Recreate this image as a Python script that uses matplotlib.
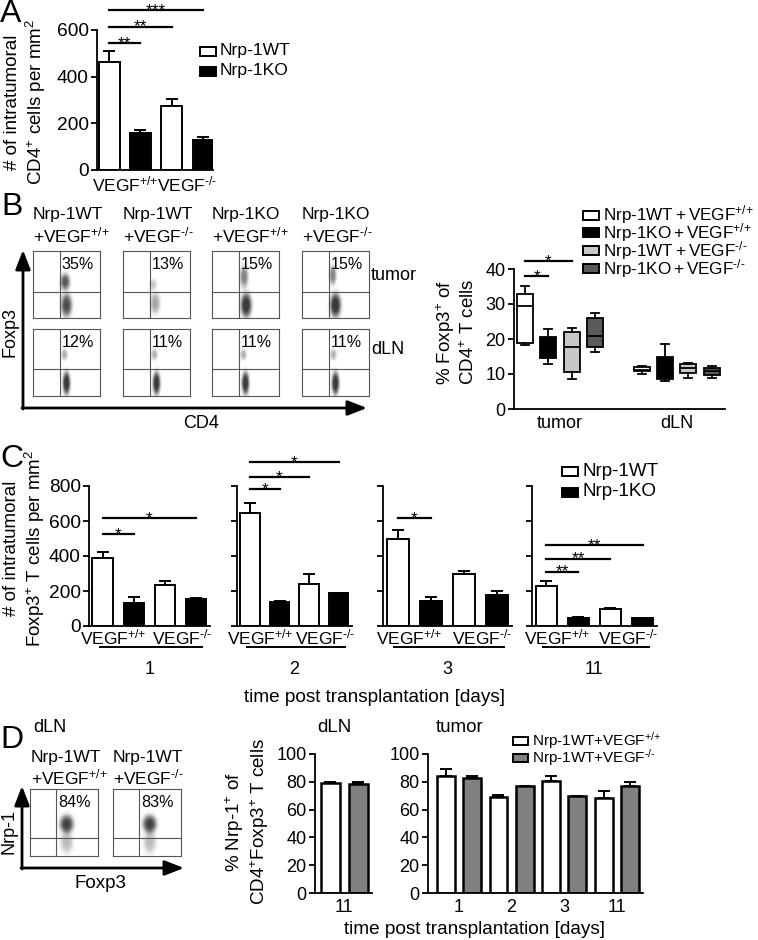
import numpy as np
import matplotlib.pyplot as plt
from matplotlib.patches import Rectangle

plt.rcParams['font.family'] = ['Liberation Sans', 'DejaVu Sans']
plt.rcParams['mathtext.fontset'] = 'custom'
plt.rcParams['mathtext.rm'] = 'Liberation Sans'
plt.rcParams['mathtext.default'] = 'rm'
plt.rcParams['font.size'] = 13
plt.rcParams['axes.linewidth'] = 1.3
plt.rcParams['xtick.major.width'] = 1.3
plt.rcParams['ytick.major.width'] = 1.3
plt.rcParams['ytick.major.size'] = 4

HY = '\u2010'  # short hyphen for the -/- superscript

# ---- data ----
genotypes = ['VEGF$^{{+}/{+}}$', 'VEGF$^{%s/%s}$' % (HY, HY)]
wt_ko_labels = ['Nrp-1WT', 'Nrp-1KO']

# A: intratumoral CD4+ cells per mm2 (WT, KO, WT, KO)
a_mean = [462, 160, 274, 129]
a_err = [48, 11, 32, 14]
a_sig = [(0, 1, 543, '**'), (0, 2, 614, '**'), (0, 3, 686, '***')]

# B: flow plots
b_titles = ['Nrp-1WT\n+' + genotypes[0], 'Nrp-1WT\n+' + genotypes[1],
            'Nrp-1KO\n+' + genotypes[0], 'Nrp-1KO\n+' + genotypes[1]]
b_tumor_pct = ['35%', '13%', '15%', '15%']
b_dln_pct = ['12%', '11%', '11%', '11%']

# B: box plot (whislo, q1, med, q3, whishi)
b_groups = ['tumor', 'dLN']
b_box_labels = ['Nrp-1WT$\\,$+$\\,$' + genotypes[0], 'Nrp-1KO$\\,$+$\\,$' + genotypes[0],
                'Nrp-1WT$\\,$+$\\,$' + genotypes[1], 'Nrp-1KO$\\,$+$\\,$' + genotypes[1]]
b_tumor_box = [(18.2, 18.9, 29.5, 32.9, 35.2), (12.9, 14.7, 17.0, 20.6, 22.9),
               (8.6, 10.7, 17.6, 21.9, 23.1), (16.4, 17.7, 21.0, 25.9, 27.4)]
b_dln_box = [(10.1, 10.8, 11.2, 12.0, 12.4), (8.1, 8.7, 10.0, 14.8, 18.7),
             (9.0, 10.3, 11.6, 13.0, 13.1), (8.8, 9.8, 10.8, 11.6, 12.2)]
b_sig = [(0, 1, 38, '*'), (0, 2, 42.3, '*')]

# C: intratumoral Foxp3+ T cells per mm2, per day (WT, KO, WT, KO)
c_days = ['1', '2', '3', '11']
c_mean = [[389, 132, 232, 153], [643, 136, 238, 189],
          [498, 143, 300, 177], [228, 47, 98, 43]]
c_err = [[34, 36, 28, 5], [61, 6, 62, 2], [51, 25, 13, 23], [32, 4, 6, 4]]
c_sig = [[(0, 1, 525, '*'), (0, 3, 615, '*')],
         [(0, 1, 783, '*'), (0, 2, 851, '*'), (0, 3, 937, '*')],
         [(0, 1, 615, '*')],
         [(0, 1, 311, '**'), (0, 2, 385, '**'), (0, 3, 462, '**')]]

# D
d_titles = ['Nrp-1WT\n+' + genotypes[0], 'Nrp-1WT\n+' + genotypes[1]]
d_pct = ['84%', '83%']
d_labels = ['Nrp-1WT+' + genotypes[0], 'Nrp-1WT+' + genotypes[1]]
d_dln_days = ['11']
d_dln_wt, d_dln_wt_err = [78.8], [1.0]
d_dln_ko, d_dln_ko_err = [78.6], [1.6]
d_days = ['1', '2', '3', '11']
d_tum_wt = [84.0, 69.3, 80.5, 68.6]
d_tum_wt_err = [5.0, 0.9, 3.5, 5.0]
d_tum_ko = [82.6, 76.7, 70.0, 76.7]
d_tum_ko_err = [1.9, 0.3, 0.0, 3.3]

LIGHT = '#c8c8c8'
DARK = '#5a5a5a'
MID = '#808080'

W, H = 758, 940
fig = plt.figure(figsize=(W / 100, H / 100), dpi=100)


def px_axes(l, t, r, b):
    return fig.add_axes([l / W, 1 - b / H, (r - l) / W, (b - t) / H])


def style(ax):
    for s in ['top', 'right']:
        ax.spines[s].set_visible(False)
    ax.tick_params(axis='x', length=0, pad=1)
    ax.tick_params(axis='y', direction='out', pad=2)


def sig(ax, x1, x2, y, label):
    ax.plot([x1, x2], [y, y], color='k', lw=1.6, clip_on=False)
    ax.annotate(label, xy=((x1 + x2) / 2, y), xytext=(0, -3.5),
                textcoords='offset points', ha='center', va='baseline',
                fontsize=12.5, annotation_clip=False)


def wtko_bars(ax, means, errs, lw=1.4):
    x = np.arange(len(means))
    fills = ['white', 'black'] * (len(means) // 2)
    ax.errorbar(x, means, yerr=[np.zeros(len(errs)), errs], fmt='none',
                ecolor='k', elinewidth=1.4, capsize=4.5, capthick=1.4, zorder=1)
    ax.bar(x, means, width=0.66, color=fills, edgecolor='k', lw=lw, zorder=2)
    return x


# ---- A ----
axA = px_axes(97, 30, 213, 170)
style(axA)
wtko_bars(axA, a_mean, a_err)
axA.set_xlim(-0.39, 3.32)
axA.set_ylim(0, 600)
axA.set_yticks([0, 200, 400, 600])
axA.tick_params(axis='y', labelsize=13.8)
axA.set_xticks([0.5, 2.5])
axA.set_xticklabels(genotypes, fontsize=12.5)
axA.tick_params(axis='x', pad=3)
for x1, x2, y, lab in a_sig:
    sig(axA, x1, x2, y, lab)

# ---- B flow plots ----
gx, gy = np.meshgrid(np.linspace(0, 1, 160), np.linspace(0, 1, 160))


def flow(ax, blobs, gate_x, gate_y, pct):
    d = np.zeros_like(gx)
    for cx, cy, sx, sy, k in blobs:
        r2 = ((gx - cx) / sx) ** 2 + ((gy - cy) / sy) ** 2
        d += k * np.exp(-r2 ** 1.6)
    img = np.zeros(gx.shape + (4,))
    img[..., :3] = 0.12
    img[..., 3] = np.clip(d, 0, 0.88)
    ax.imshow(img, extent=(0, 1, 0, 1), origin='lower', aspect='auto',
              interpolation='bilinear')
    ax.axvline(gate_x, color='#555555', lw=0.8)
    ax.axhline(gate_y, color='#555555', lw=0.8)
    ax.set_xlim(0, 1)
    ax.set_ylim(0, 1)
    ax.set_xticks([])
    ax.set_yticks([])
    for s in ax.spines.values():
        s.set_color('#555555')
        s.set_linewidth(0.8)
    ax.text(gate_x + 0.03, 0.8, pct, fontsize=11.6, va='center', ha='left')


tumor_blobs = [
    [(0.48, 0.54, 0.07, 0.12, 0.75), (0.5, 0.19, 0.08, 0.17, 0.8)],
    [(0.45, 0.5, 0.05, 0.08, 0.25), (0.48, 0.22, 0.07, 0.15, 0.4)],
    [(0.48, 0.62, 0.06, 0.16, 0.55), (0.51, 0.19, 0.08, 0.18, 0.95)],
    [(0.46, 0.64, 0.05, 0.14, 0.55), (0.5, 0.19, 0.08, 0.18, 0.95)],
]
dln_blobs = [(0.47, 0.62, 0.045, 0.08, 0.35), (0.5, 0.19, 0.055, 0.17, 0.95)]
b_cols_px = [33, 123, 212, 302]
for i, l in enumerate(b_cols_px):
    ax = px_axes(l, 251, l + 67, 318)
    flow(ax, tumor_blobs[i], 0.4, 0.39, b_tumor_pct[i])
    ax = px_axes(l, 329, l + 67, 396)
    flow(ax, dln_blobs, 0.4, 0.4, b_dln_pct[i])

# ---- B box plot ----
axB = px_axes(514, 269, 725, 409)
style(axB)
stats = []
for whislo, q1, med, q3, whishi in b_tumor_box + b_dln_box:
    stats.append(dict(whislo=whislo, q1=q1, med=med, q3=q3, whishi=whishi, fliers=[]))
bp = axB.bxp(stats, positions=[0, 1, 2, 3, 5, 6, 7, 8], widths=0.68,
             patch_artist=True, showfliers=False,
             boxprops=dict(lw=1.3, edgecolor='k'),
             medianprops=dict(color='k', lw=1.3),
             whiskerprops=dict(lw=1.3), capprops=dict(lw=1.3))
box_fills = ['white', 'black', LIGHT, DARK] * 2
for p, c in zip(bp['boxes'], box_fills):
    p.set_facecolor(c)
axB.set_xlim(-0.47, 8.57)
axB.set_ylim(0, 40)
axB.set_yticks([0, 10, 20, 30, 40])
axB.set_xticks([1.5, 6.5])
axB.set_xticklabels(b_groups)
axB.tick_params(axis='x', pad=4)
for x1, x2, y, lab in b_sig:
    sig(axB, x1, x2, y, lab)

# ---- C ----
c_px = [(89, 210), (237, 352), (383, 512), (532, 657)]
for i, (l, r) in enumerate(c_px):
    ax = px_axes(l, 486, r, 626)
    style(ax)
    wtko_bars(ax, c_mean[i], c_err[i])
    ax.set_xlim(-0.44, 3.45)
    ax.set_ylim(0, 800)
    ax.set_yticks([0, 200, 400, 600, 800])
    ax.tick_params(axis='y', labelsize=13.8)
    if i > 0:
        ax.set_yticklabels([])
    ax.set_xticks([0.35, 2.55])
    ax.set_xticklabels(genotypes, fontsize=12.5)
    for x1, x2, y, lab in c_sig[i]:
        sig(ax, x1, x2, y, lab)
    ax.plot([-0.1, 3.2], [-0.15, -0.15], color='k', lw=1.4,
            transform=ax.get_xaxis_transform(), clip_on=False)
    ax.text(1.5, -0.31, c_days[i], ha='center', va='center',
            transform=ax.get_xaxis_transform())

# ---- D flow ----
d_blobs = [(0.54, 0.47, 0.1, 0.13, 0.85), (0.54, 0.2, 0.09, 0.15, 0.3)]
for i, l in enumerate([30, 113]):
    ax = px_axes(l, 789, l + 68, 856)
    flow(ax, d_blobs, 0.38, 0.27, d_pct[i])

# ---- D bars ----


def wt_gray_bars(ax, wt, wt_err, ko, ko_err):
    n = len(wt)
    x = np.arange(2 * n)
    means = [v for pair in zip(wt, ko) for v in pair]
    errs = [v for pair in zip(wt_err, ko_err) for v in pair]
    ax.errorbar(x, means, yerr=[np.zeros(2 * n), errs], fmt='none', ecolor='k',
                elinewidth=1.4, capsize=4.5, capthick=1.4, zorder=1)
    ax.bar(x, means, width=0.68, color=['white', MID] * n, edgecolor='k',
           lw=1.8, zorder=2)


axD1 = px_axes(315, 754, 372, 893)
style(axD1)
wt_gray_bars(axD1, d_dln_wt, d_dln_wt_err, d_dln_ko, d_dln_ko_err)
axD1.set_xlim(-0.54, 1.5)
axD1.set_ylim(0, 100)
axD1.set_yticks([0, 20, 40, 60, 80, 100])
axD1.set_xticks([0.5])
axD1.set_xticklabels(d_dln_days)
axD1.tick_params(axis='x', pad=4)

axD2 = px_axes(428, 754, 643, 893)
style(axD2)
wt_gray_bars(axD2, d_tum_wt, d_tum_wt_err, d_tum_ko, d_tum_ko_err)
axD2.set_xlim(-0.68, 7.5)
axD2.set_ylim(0, 100)
axD2.set_yticks([0, 20, 40, 60, 80, 100])
axD2.set_xticks([0.5, 2.5, 4.5, 6.5])
axD2.set_xticklabels(d_days)
axD2.tick_params(axis='x', pad=4)

# ---- overlay for text, arrows and legends (pixel coords) ----
ov = fig.add_axes([0, 0, 1, 1], zorder=10)
ov.set_xlim(0, W)
ov.set_ylim(H, 0)
ov.axis('off')
ov.patch.set_alpha(0)

for lab, x, y in [('A', 0, 22), ('B', 1, 215), ('C', 0, 467), ('D', 0, 748)]:
    ov.text(x, y, lab, fontsize=23, va='baseline', ha='left')

# y labels
ylab = dict(rotation=90, ha='center', va='center', multialignment='center',
            linespacing=1.15, fontsize=13.5)
ov.text(26, 102, '# of intratumoral\nCD4$^{+}$ cells per mm$^{2}$', **ylab)
ov.text(456, 332, '% Foxp3$^{+}$ of\nCD4$^{+}$ T cells', **ylab)
ov.text(25, 548, '# of intratumoral\nFoxp3$^{+}$ T cells per mm$^{2}$', **ylab)
ov.text(247, 822, '% Nrp-1$^{+}$ of\nCD4$^{+}$Foxp3$^{+}$ T cells', **ylab)

# B flow annotations
for t, l in zip(b_titles, b_cols_px):
    ov.text(l, 226, t, ha='left', va='center', linespacing=1.2, fontsize=12.5)
ov.text(371, 276, 'tumor', va='center')
ov.text(371, 350, 'dLN', va='center')
arrow = dict(arrowstyle='-|>,head_length=0.9,head_width=0.35', lw=2, color='k',
             shrinkA=0, shrinkB=0)
ov.annotate('', xy=(23, 250), xytext=(23, 409), arrowprops=arrow)
ov.annotate('', xy=(367, 408), xytext=(22, 408), arrowprops=arrow)
ov.text(10, 332, 'Foxp3', rotation=90, ha='center', va='center')
ov.text(201, 424, 'CD4', ha='center', va='center')

# C labels
ov.text(375, 697, 'time post transplantation [days]', ha='center', va='center',
        fontsize=13.7)

# D flow annotations
ov.text(33, 728, 'dLN', va='center')
for t, l in zip(d_titles, [31, 113]):
    ov.text(l, 769, t, ha='left', va='center', linespacing=1.15, fontsize=12.5)
ov.annotate('', xy=(22, 786), xytext=(22, 869), arrowprops=arrow)
ov.annotate('', xy=(184, 868), xytext=(21, 868), arrowprops=arrow)
ov.text(9, 832, 'Nrp-1', rotation=90, ha='center', va='center')
ov.text(100, 883, 'Foxp3', ha='center', va='center', fontsize=13.5)

# D titles and axis label
ov.text(334, 727, 'dLN', ha='center', va='center', fontsize=13.5)
ov.text(460, 727, 'tumor', ha='center', va='center', fontsize=13.5)
ov.text(475, 929, 'time post transplantation [days]', ha='center', va='center',
        fontsize=13.7)


def legend(x, y0, dy, labels, fills, fs=12, bw=16, bh=9):
    for i, (lab, c) in enumerate(zip(labels, fills)):
        y = y0 + i * dy
        ov.add_patch(Rectangle((x, y - bh / 2), bw, bh, facecolor=c,
                               edgecolor='k', lw=1.4))
        ov.text(x + bw + 4, y, lab, va='center', ha='left', fontsize=fs)


legend(200, 51, 20, wt_ko_labels, ['white', 'black'], fs=12.6)
legend(583, 215, 17.7, b_box_labels, ['white', 'black', LIGHT, DARK], fs=12.3)
legend(562, 471, 21, wt_ko_labels, ['white', 'black'], fs=13.6)
legend(513, 741, 16.5, d_labels, ['white', MID], fs=11, bw=15, bh=8)

fig.savefig('out.png', dpi=100)
